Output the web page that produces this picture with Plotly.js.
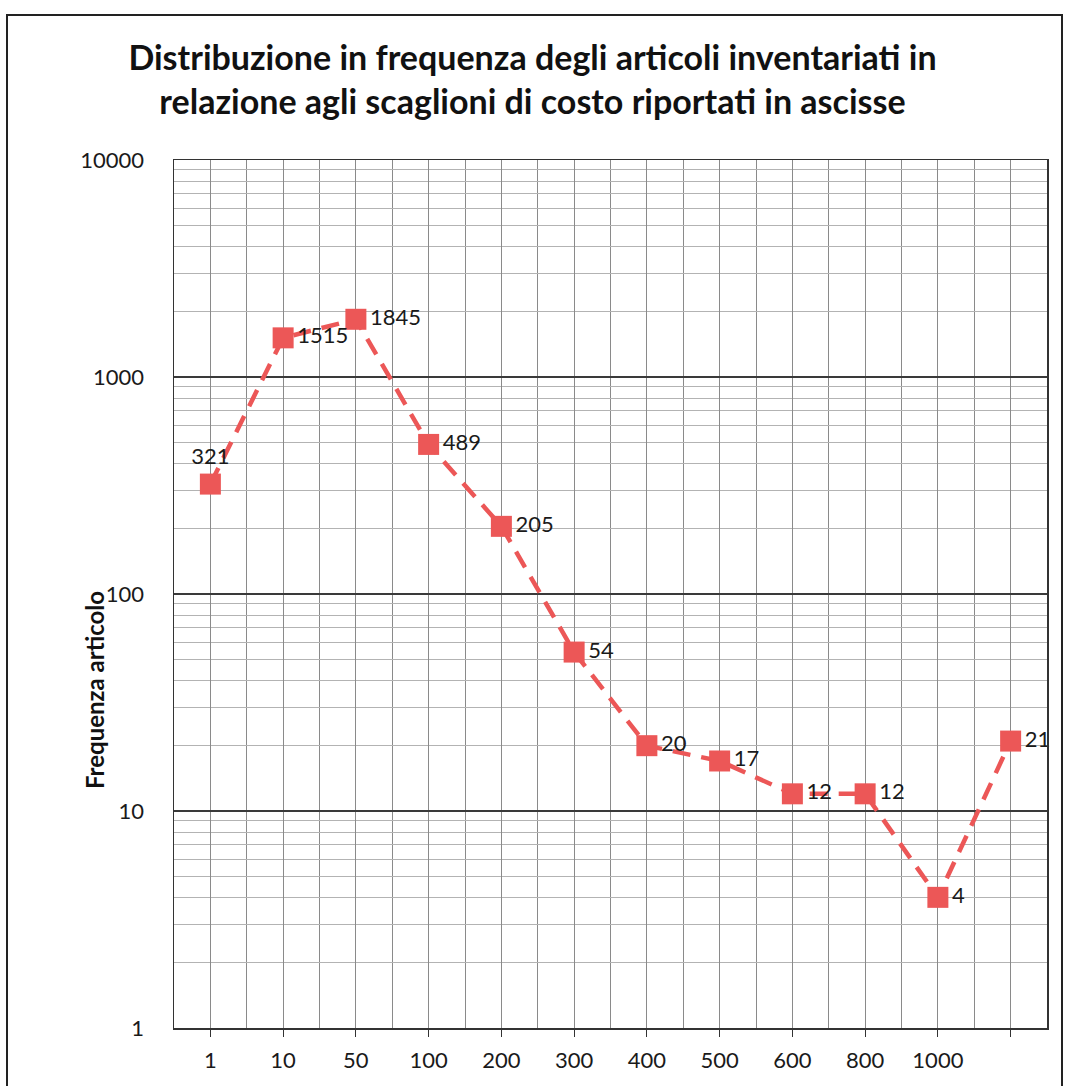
<!DOCTYPE html>
<html>
<head>
<meta charset="utf-8">
<script src="https://cdn.plot.ly/plotly-3.0.1.min.js"></script>
<style>
  html, body { margin: 0; padding: 0; background: #ffffff; }
  #chart { width: 1065px; height: 1086px; }
</style>
</head>
<body>
<div id="chart"></div>
<script>
// ---- Data ----
const categories = ['1', '10', '50', '100', '200', '300', '400', '500', '600', '800', '1000', ''];
const frequencies = [321, 1515, 1845, 489, 205, 54, 20, 17, 12, 12, 4, 21];
const labelPositions = ['top center', 'middle right', 'middle right', 'middle right', 'middle right',
  'middle right', 'middle right', 'middle right', 'middle right', 'middle right', 'middle right', 'middle right'];
const yTickVals = [1, 10, 100, 1000, 10000];
const yTickText = ['1', '10', '100', '1000', '10000'];

const titleText = 'Distribuzione in frequenza degli articoli inventariati in<br>relazione agli scaglioni di costo riportati in ascisse';
const yTitleText = 'Frequenza articolo';

const xIndex = categories.map((c, i) => i);

const redColor = '#ec5757';
const labelFont = { family: 'Lato, "Open Sans", sans-serif', size: 22, color: '#1a1a1a' };

const trace = {
  type: 'scatter',
  mode: 'lines+markers+text',
  x: xIndex,
  y: frequencies,
  text: frequencies.map(String),
  textposition: labelPositions,
  textfont: labelFont,
  line: { color: redColor, width: 4.5, dash: '18px,11px' },
  marker: { symbol: 'square', size: 21, color: redColor, line: { width: 0 } },
  cliponaxis: false,
  hoverinfo: 'x+y',
  showlegend: false
};

const layout = {
  width: 1065,
  height: 1086,
  paper_bgcolor: '#ffffff',
  plot_bgcolor: '#ffffff',
  margin: { l: 174, r: 18, t: 160, b: 58, pad: 0 },
  font: { family: 'Lato, "Open Sans", sans-serif', color: '#1a1a1a' },
  title: {
    text: titleText,
    font: { family: 'Lato, "Open Sans", sans-serif', size: 34, color: '#111111', weight: 'bold' },
    x: 0.5,
    xref: 'container',
    xanchor: 'center',
    y: 1 - 70 / 1086,
    yref: 'container',
    yanchor: 'top'
  },
  xaxis: {
    type: 'linear',
    range: [-0.5, categories.length - 0.5],
    tickmode: 'array',
    tickvals: xIndex,
    ticktext: categories,
    ticks: 'outside',
    ticklen: 7,
    tickwidth: 1,
    tickcolor: '#333333',
    tickfont: labelFont,
    ticklabelstandoff: 5,
    showgrid: true,
    gridcolor: '#8a8a8a',
    gridwidth: 1,
    minor: { tick0: -0.5, dtick: 0.5, showgrid: true, gridcolor: '#8a8a8a', gridwidth: 1, ticks: '' },
    showline: true,
    linecolor: '#333333',
    linewidth: 1.5,
    mirror: true,
    zeroline: false,
    fixedrange: true
  },
  yaxis: {
    type: 'log',
    range: [0, 4],
    tickmode: 'array',
    tickvals: yTickVals,
    ticktext: yTickText,
    ticks: '',
    tickfont: labelFont,
    ticklabelstandoff: 24,
    showgrid: true,
    gridcolor: '#3a3a3a',
    gridwidth: 1.2,
    minor: { dtick: 'D1', showgrid: true, gridcolor: '#b3b3b3', gridwidth: 1, ticks: '' },
    showline: true,
    linecolor: '#333333',
    linewidth: 1.5,
    mirror: true,
    zeroline: false,
    fixedrange: true
  },
  annotations: [
    {
      text: yTitleText,
      textangle: -90,
      xref: 'paper', yref: 'paper',
      x: (94 - 174) / 873, y: (1028 - 690) / 868,
      xanchor: 'center', yanchor: 'middle',
      showarrow: false,
      font: { family: 'Lato, "Open Sans", sans-serif', size: 24, color: '#111111', weight: 'bold' }
    }
  ],
  shapes: [
    {
      type: 'rect',
      xref: 'paper', yref: 'paper',
      x0: (7 - 174) / 873, x1: (1062 - 174) / 873,
      y0: (1028 - 1100) / 868, y1: (1028 - 15) / 868,
      line: { color: '#222222', width: 2 },
      fillcolor: 'rgba(0,0,0,0)',
      layer: 'below'
    }
  ]
};

Plotly.newPlot('chart', [trace], layout, { displayModeBar: false, staticPlot: true });
</script>
</body>
</html>
